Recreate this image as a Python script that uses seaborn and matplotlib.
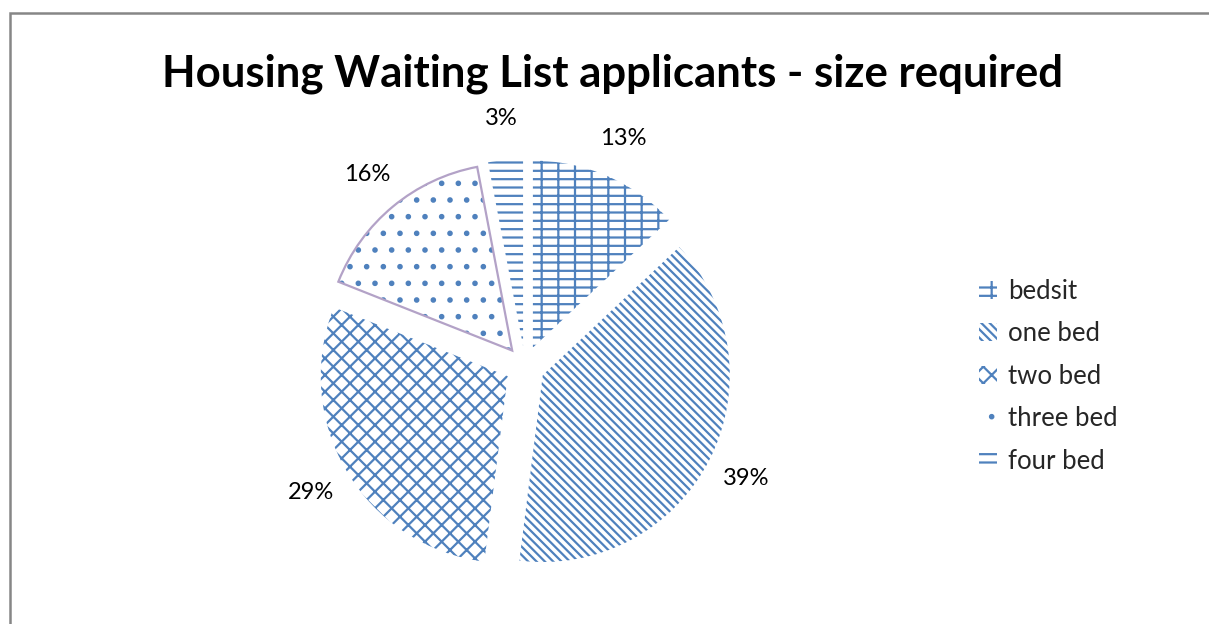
import matplotlib
matplotlib.use("Agg")
import matplotlib.pyplot as plt
import seaborn as sns
from matplotlib.patches import Patch, Wedge, Rectangle

categories = ["bedsit", "one bed", "two bed", "three bed", "four bed"]
shares = [13, 39, 29, 16, 3]
hatches = ["+-", "\\\\\\\\", "xx", ".", "--"]

sns.set_theme(style="white")
plt.rcParams["font.family"] = ["Lato", "DejaVu Sans"]
plt.rcParams["hatch.linewidth"] = 1.6

blue = "#4F81BD"
lavender = "#B3A2C7"

fig = plt.figure(figsize=(12.09, 6.24), dpi=100)
ax = fig.add_axes([0.2022, -0.036, 0.464, 0.899])

wedges, texts, autotexts = ax.pie(
    shares,
    startangle=90,
    counterclock=False,
    explode=[0.107] * len(shares),
    autopct="%1.0f%%",
    pctdistance=1.22,
    colors=["white"] * len(shares),
    wedgeprops=dict(edgecolor=blue, linewidth=0),
    textprops=dict(fontsize=17, color="black"),
)
for w, h in zip(wedges, hatches):
    w.set_hatch(h)

# three bed outline in lavender
w3 = wedges[3]
ax.add_patch(Wedge(w3.center, w3.r, w3.theta1, w3.theta2, fill=False,
                   edgecolor=lavender, linewidth=1.6))

ax.set_xlim(-1.5, 1.5)
ax.set_ylim(-1.5, 1.5)
ax.set_aspect("equal")
ax.axis("off")

handles = []
for c, h in zip(categories, hatches):
    handles.append(Patch(facecolor="white", edgecolor=blue, hatch=h, linewidth=0, label=c))
leg = fig.legend(handles=handles, loc="center left", bbox_to_anchor=(0.791, 0.397),
                 frameon=False, fontsize=18.5, handlelength=0.7, handleheight=0.7,
                 handletextpad=0.4, labelspacing=0.68)

fig.text(0.5066, 0.882, "Housing Waiting List applicants - size required",
         ha="center", va="center", fontsize=31.5, fontweight="bold", color="black")

fig.patches.append(Rectangle((10 / 1209, -0.2), 1.2, 1.2 - 13 / 624,
                             transform=fig.transFigure, fill=False,
                             edgecolor="#868686", linewidth=1.8))

fig.savefig("out.png", dpi=100, facecolor="white")
